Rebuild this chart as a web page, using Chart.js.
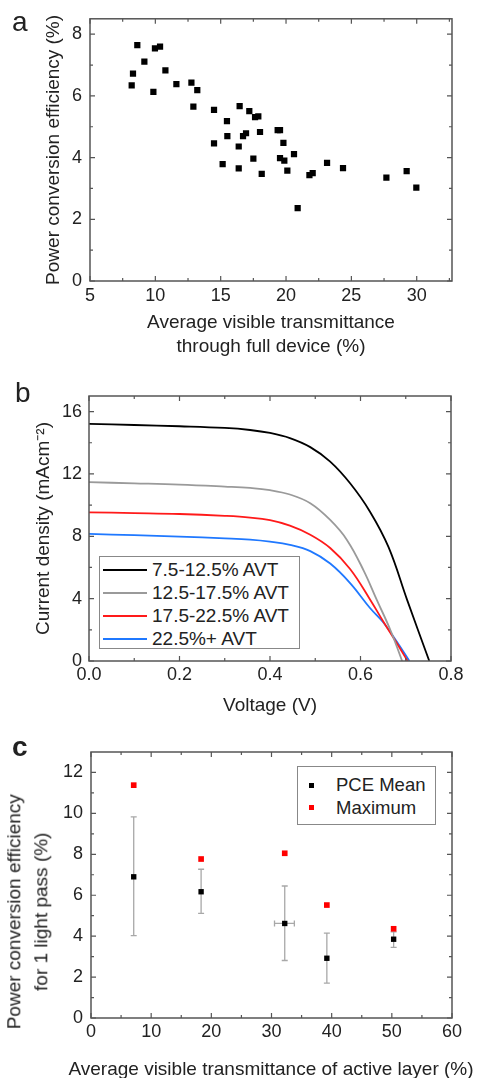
<!DOCTYPE html>
<html>
<head>
<meta charset="utf-8">
<script src="https://cdn.jsdelivr.net/npm/chart.js@4.4.1/dist/chart.umd.min.js"></script>
<style>
    body { margin: 0; background: #fff; }
    #wrap { position: relative; width: 478px; height: 1078px; overflow: hidden; font-family: "Liberation Sans", Arial, sans-serif; color: #222; }
    #wrap canvas { position: absolute; left: 0; }
    .panel-label { position: absolute; font-size: 28px; line-height: 28px; }
    .axis-title { position: absolute; font-size: 19px; text-align: center; white-space: nowrap; }
    .legend { position: absolute; border: 1px solid #888; background: #fff; box-sizing: border-box; }
    .legend .row { display: flex; align-items: center; white-space: nowrap; }
    .legend .swatch-line { display: inline-block; width: 44px; height: 2px; margin: 0 5px 0 3px; }
    .legend .swatch-box { display: inline-block; width: 5px; height: 5px; margin: 0 22px 0 11px; }
</style>
</head>
<body>
<div id="wrap">
    <canvas id="chartA" width="478" height="360" style="top:0"></canvas>
    <canvas id="chartB" width="478" height="365" style="top:360px"></canvas>
    <canvas id="chartC" width="478" height="353" style="top:725px"></canvas>
    <div class="panel-label" style="left:12px;top:8px">a</div>
    <div class="panel-label" style="left:15px;top:379px">b</div>
    <div class="panel-label" style="left:12px;top:733px;font-weight:bold">c</div>
    <!-- panel c titles are wider than the plot, so they live outside the canvas -->
    <div class="axis-title" style="left:-131.6px;top:885.3px;width:320px;line-height:26.7px;transform:rotate(-90deg)">Power conversion efficiency<br>for 1 light pass (%)</div>
    <div class="axis-title" style="left:60px;top:1058.5px;width:422px;line-height:19px">Average visible transmittance of active layer (%)</div>
    <div id="legendB" class="legend" style="left:99px;top:556px;width:201px;height:93px;padding-top:1px;font-size:19px"></div>
    <div id="legendC" class="legend" style="left:297px;top:766px;width:139px;height:59px;padding-top:7px;font-size:18.5px"></div>
</div>
<script>
// ---- panel a: PCE vs AVT of full device ----
const aTransmittance = [8.19, 8.29, 8.62, 9.16, 9.85, 9.97, 10.36, 10.77, 11.61, 12.76, 13.21, 12.91, 14.49, 14.49,
    15.48, 15.51, 15.15, 16.45, 17.19, 17.63, 17.88, 18.01, 16.71, 16.94, 16.38, 16.38, 17.50, 18.14, 19.36, 19.54,
    19.80, 19.54, 19.87, 20.10, 20.61, 20.89, 21.79, 22.04, 23.14, 24.36, 27.68, 29.23, 29.97];
const aEfficiency = [6.34, 6.72, 7.65, 7.11, 6.13, 7.54, 7.60, 6.83, 6.38, 6.43, 6.19, 5.65, 5.55, 4.46,
    5.18, 4.70, 3.79, 5.67, 5.51, 5.31, 5.34, 4.83, 4.70, 4.79, 4.36, 3.65, 3.97, 3.47, 4.89, 4.89,
    4.48, 3.98, 3.90, 3.58, 4.11, 2.36, 3.43, 3.50, 3.83, 3.66, 3.35, 3.56, 3.03];
const aXTicks = [5, 10, 15, 20, 25, 30];
const aYTicks = [0, 2, 4, 6, 8];

// ---- panel b: J-V curves ----
const bLabels = ["7.5-12.5% AVT", "12.5-17.5% AVT", "17.5-22.5% AVT", "22.5%+ AVT"];
const bColors = ["#000000", "#9a9a9a", "#ff1a1a", "#1f78ff"];
const bVoltage = [
    [0, 0.1, 0.2, 0.3, 0.356, 0.4, 0.444, 0.489, 0.533, 0.577, 0.621, 0.662, 0.703, 0.752],
    [0, 0.1, 0.2, 0.3, 0.356, 0.4, 0.444, 0.489, 0.533, 0.570, 0.607, 0.636, 0.666, 0.692],
    [0, 0.1, 0.2, 0.3, 0.356, 0.4, 0.444, 0.489, 0.533, 0.577, 0.621, 0.651, 0.680, 0.704],
    [0, 0.1, 0.2, 0.3, 0.356, 0.4, 0.444, 0.489, 0.533, 0.577, 0.621, 0.651, 0.680, 0.708]
];
const bCurrent = [
    [15.21, 15.14, 15.06, 14.95, 14.82, 14.63, 14.30, 13.72, 12.79, 11.40, 9.58, 7.30, 3.92, 0],
    [11.47, 11.40, 11.32, 11.19, 11.10, 10.96, 10.68, 10.12, 9.05, 7.77, 5.80, 3.92, 1.99, 0],
    [9.54, 9.49, 9.43, 9.31, 9.20, 9.03, 8.68, 8.10, 7.25, 5.90, 3.95, 2.50, 1.15, 0],
    [8.15, 8.07, 7.98, 7.87, 7.79, 7.66, 7.45, 7.05, 6.25, 5.00, 3.40, 2.45, 1.25, 0]
];
const bXTicks = [0, 0.2, 0.4, 0.6, 0.8];
const bYTicks = [0, 4, 8, 12, 16];

// ---- panel c: PCE for one light pass vs AVT of active layer ----
const cTransmittance = [7.1, 18.3, 32.2, 39.2, 50.3];
const cMean = [6.90, 6.17, 4.62, 2.92, 3.85];
const cMeanLow = [4.03, 5.11, 2.81, 1.70, 3.45];
const cMeanHigh = [9.83, 7.27, 6.45, 4.15, 4.21];
const cTransLow = [null, null, 30.5, null, null];
const cTransHigh = [null, null, 33.8, null, null];
const cMax = [11.38, 7.77, 8.05, 5.52, 4.36];
const cXTicks = [0, 10, 20, 30, 40, 50, 60];
const cYTicks = [0, 2, 4, 6, 8, 10, 12];

Chart.defaults.font.family = '"Liberation Sans", Arial, sans-serif';
Chart.defaults.color = "#222";
Chart.defaults.animation = false;
Chart.defaults.plugins.legend.display = false;
Chart.defaults.plugins.tooltip.enabled = false;

// box round the plot with inward major and minor ticks on all four sides
const frameTicks = {
    id: "frameTicks",
    afterDraw(chart, args, opts) {
        const { ctx, chartArea: a, scales: { x, y } } = chart;
        ctx.save();
        ctx.strokeStyle = opts.color || "#555";
        ctx.lineWidth = opts.width || 1.5;
        ctx.strokeRect(a.left, a.top, a.right - a.left, a.bottom - a.top);
        ctx.lineWidth = 1.2;
        const marks = scale => {
            const major = scale.ticks.map(t => t.value);
            const step = major[1] - major[0];
            const minor = [];
            for (let v = major[0] + step / 2; v < scale.max - step * 1e-3; v += step) minor.push(v);
            return major.map(v => [v, 5]).concat(minor.map(v => [v, 3]));
        };
        ctx.beginPath();
        marks(x).forEach(([v, len]) => {
            const px = x.getPixelForValue(v);
            ctx.moveTo(px, a.bottom); ctx.lineTo(px, a.bottom - len);
            ctx.moveTo(px, a.top); ctx.lineTo(px, a.top + len);
        });
        marks(y).forEach(([v, len]) => {
            const py = y.getPixelForValue(v);
            ctx.moveTo(a.left, py); ctx.lineTo(a.left + len, py);
            ctx.moveTo(a.right, py); ctx.lineTo(a.right - len, py);
        });
        ctx.stroke();
        ctx.restore();
    }
};

// vertical / horizontal error bars with caps
const errorBars = {
    id: "errorBars",
    beforeDatasetsDraw(chart) {
        const { ctx, scales: { x, y } } = chart;
        chart.data.datasets.forEach(ds => {
            const e = ds.errorBars;
            if (!e) return;
            ctx.save();
            ctx.strokeStyle = "#a8a8a8";
            ctx.lineWidth = 1.3;
            ctx.beginPath();
            ds.data.forEach((pt, i) => {
                const px = x.getPixelForValue(pt.x);
                const py = y.getPixelForValue(pt.y);
                if (e.yLow[i] != null) {
                    const top = y.getPixelForValue(e.yHigh[i]);
                    const bot = y.getPixelForValue(e.yLow[i]);
                    ctx.moveTo(px, top); ctx.lineTo(px, bot);
                    ctx.moveTo(px - 3, top); ctx.lineTo(px + 3, top);
                    ctx.moveTo(px - 3, bot); ctx.lineTo(px + 3, bot);
                }
                if (e.xLow[i] != null) {
                    const lo = x.getPixelForValue(e.xLow[i]);
                    const hi = x.getPixelForValue(e.xHigh[i]);
                    ctx.moveTo(lo, py); ctx.lineTo(hi, py);
                    ctx.moveTo(lo, py - 3); ctx.lineTo(lo, py + 3);
                    ctx.moveTo(hi, py - 3); ctx.lineTo(hi, py + 3);
                }
            });
            ctx.stroke();
            ctx.restore();
        });
    }
};

const tickFont = { size: 18, lineHeight: 1.2 };
const titleFont = { size: 19, lineHeight: 1.2 };

// common linear axis with fixed ticks, fixed size and no own grid / border
function axis(min, max, ticks, size, extra) {
    return Object.assign({
        type: "linear",
        min: min,
        max: max,
        grid: { display: false, drawTicks: false },
        border: { display: false },
        afterBuildTicks: scale => { scale.ticks = ticks.map(v => ({ value: v })); },
        afterFit: scale => {
            if (scale.isHorizontal()) scale.height = size;
            else scale.width = size;
        }
    }, extra);
}

// 渲染 a
new Chart(document.getElementById("chartA"), {
    type: "scatter",
    data: {
        datasets: [{
            data: aTransmittance.map((t, i) => ({ x: t, y: aEfficiency[i] })),
            pointStyle: "rect",
            pointRadius: 4.4,
            borderWidth: 0,
            backgroundColor: "#000"
        }]
    },
    options: {
        responsive: false,
        layout: { padding: { top: 16, right: 26, left: 0, bottom: 0 } },
        scales: {
            x: axis(5, 32.7, aXTicks, 79, {
                ticks: { font: tickFont, padding: 4, autoSkip: false, maxRotation: 0 },
                title: { display: true, text: ["Average visible transmittance", "through full device (%)"],
                    font: { size: 19, lineHeight: 1.26 }, padding: { top: 0, bottom: 1 } }
            }),
            y: axis(0, 8.5, aYTicks, 90, {
                ticks: { font: tickFont, padding: 8 },
                title: { display: true, text: "Power conversion efficiency (%)", font: titleFont, padding: { top: 42, bottom: 0 } }
            })
        },
        plugins: { frameTicks: { color: "#555", width: 1.5 } }
    },
    plugins: [frameTicks]
});

// 渲染 b
new Chart(document.getElementById("chartB"), {
    type: "scatter",
    data: {
        datasets: bLabels.map((label, k) => ({
            label: label,
            data: bVoltage[k].map((v, i) => ({ x: v, y: bCurrent[k][i] })),
            showLine: true,
            borderColor: bColors[k],
            borderWidth: 1.8,
            pointRadius: 0,
            tension: 0.4
        }))
    },
    options: {
        responsive: false,
        layout: { padding: { top: 36, right: 27, left: 0, bottom: 0 } },
        scales: {
            x: axis(0, 0.8, bXTicks, 64, {
                ticks: { font: tickFont, padding: 3, autoSkip: false, maxRotation: 0, callback: v => v.toFixed(1) },
                title: { display: true, text: "Voltage (V)", font: titleFont, padding: { top: 0, bottom: 8 } }
            }),
            y: axis(0, 17, bYTicks, 89, {
                ticks: { font: tickFont, padding: 7 },
                title: { display: true, text: "Current density (mAcm\u207B\u00B2)", font: titleFont, padding: { top: 32, bottom: 0 } }
            })
        },
        plugins: { frameTicks: { color: "#555", width: 1.5 } }
    },
    plugins: [frameTicks]
});

// 渲染 c
const chartC = new Chart(document.getElementById("chartC"), {
    type: "scatter",
    data: {
        datasets: [
            {
                label: "PCE Mean",
                data: cTransmittance.map((t, i) => ({ x: t, y: cMean[i] })),
                errorBars: { yLow: cMeanLow, yHigh: cMeanHigh, xLow: cTransLow, xHigh: cTransHigh },
                pointStyle: "rect",
                pointRadius: 3.8,
                borderWidth: 0,
                backgroundColor: "#000"
            },
            {
                label: "Maximum",
                data: cTransmittance.map((t, i) => ({ x: t, y: cMax[i] })),
                pointStyle: "rect",
                pointRadius: 4,
                borderWidth: 0,
                backgroundColor: "#ff0000"
            }
        ]
    },
    options: {
        responsive: false,
        layout: { padding: { top: 27, right: 26, left: 0, bottom: 0 } },
        scales: {
            x: axis(0, 60, cXTicks, 60, {
                ticks: { font: tickFont, padding: 3, autoSkip: false, maxRotation: 0 }
            }),
            y: axis(0, 13, cYTicks, 91, {
                ticks: { font: tickFont, padding: 8 }
            })
        },
        plugins: { frameTicks: { color: "#555", width: 1.5 } }
    },
    plugins: [errorBars, frameTicks]
});

// 圖例 (legends built from the datasets)
document.getElementById("legendB").innerHTML = bLabels.map((label, k) => `
    <div class="row" style="height:23px">
        <span class="swatch-line" style="background-color:${bColors[k]}"></span>${label}
    </div>`).join("");

document.getElementById("legendC").innerHTML = chartC.data.datasets.map(ds => `
    <div class="row" style="height:22.4px">
        <span class="swatch-box" style="background-color:${ds.backgroundColor}"></span>${ds.label}
    </div>`).join("");
</script>
</body>
</html>
